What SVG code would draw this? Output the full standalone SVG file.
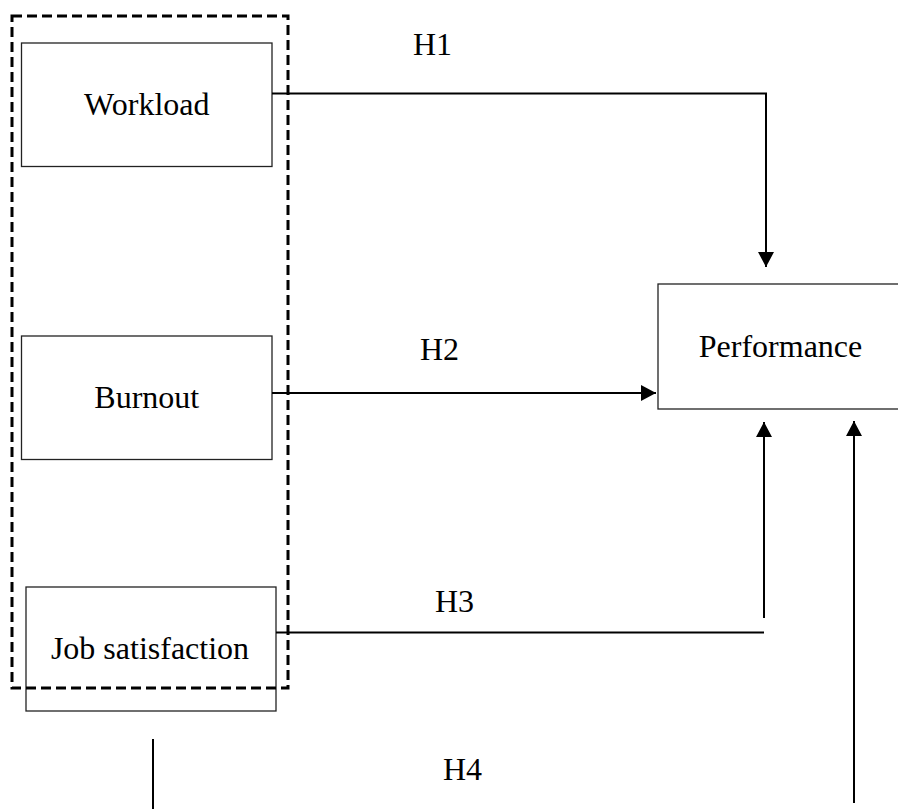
<svg xmlns="http://www.w3.org/2000/svg" width="898" height="809" viewBox="0 0 898 809">
<style>
.box{fill:#fff;stroke:#222;stroke-width:1.3}
.lbl{font-family:"Liberation Serif","Times New Roman",serif;font-size:32px;fill:#000}
.con{fill:none;stroke:#000;stroke-width:2}
.grp{fill:none;stroke:#000;stroke-width:3;stroke-dasharray:10 5}
</style>
<defs>
<marker id="ah" markerUnits="userSpaceOnUse" markerWidth="16" markerHeight="16" refX="15" refY="8" orient="auto">
<path d="M0,0 L15,8 L0,16 z" fill="#000"/>
</marker>
</defs>
<g id="workload"><rect class="box" x="21.5" y="43" width="250.5" height="123.5"/><text class="lbl" x="146.8" y="115" text-anchor="middle">Workload</text></g>
<g id="burnout"><rect class="box" x="21.5" y="336" width="250.5" height="123.5"/><text class="lbl" x="146.8" y="408" text-anchor="middle">Burnout</text></g>
<g id="jobsat"><rect class="box" x="26" y="587" width="250" height="124"/><text class="lbl" x="150" y="659" text-anchor="middle">Job satisfaction</text></g>
<g id="performance"><rect class="box" x="658" y="284" width="260" height="125"/><text class="lbl" x="780.5" y="357" text-anchor="middle">Performance</text></g>
<g id="group"><rect class="grp" x="12" y="16" width="276" height="672"/></g>
<g id="connectors">
<path class="con" d="M272,93.5 H766 V267" marker-end="url(#ah)"/>
<path class="con" d="M272,393 H656" marker-end="url(#ah)"/>
<path class="con" d="M276,632.5 H764"/>
<path class="con" d="M764,618 V422" marker-end="url(#ah)"/>
<path class="con" d="M854,803 V421" marker-end="url(#ah)"/>
<path class="con" d="M153,739 V809"/>
</g>
<g id="labels">
<text class="lbl" x="413" y="55">H1</text>
<text class="lbl" x="420" y="360">H2</text>
<text class="lbl" x="435" y="612">H3</text>
<text class="lbl" x="443" y="780">H4</text>
</g>
</svg>
